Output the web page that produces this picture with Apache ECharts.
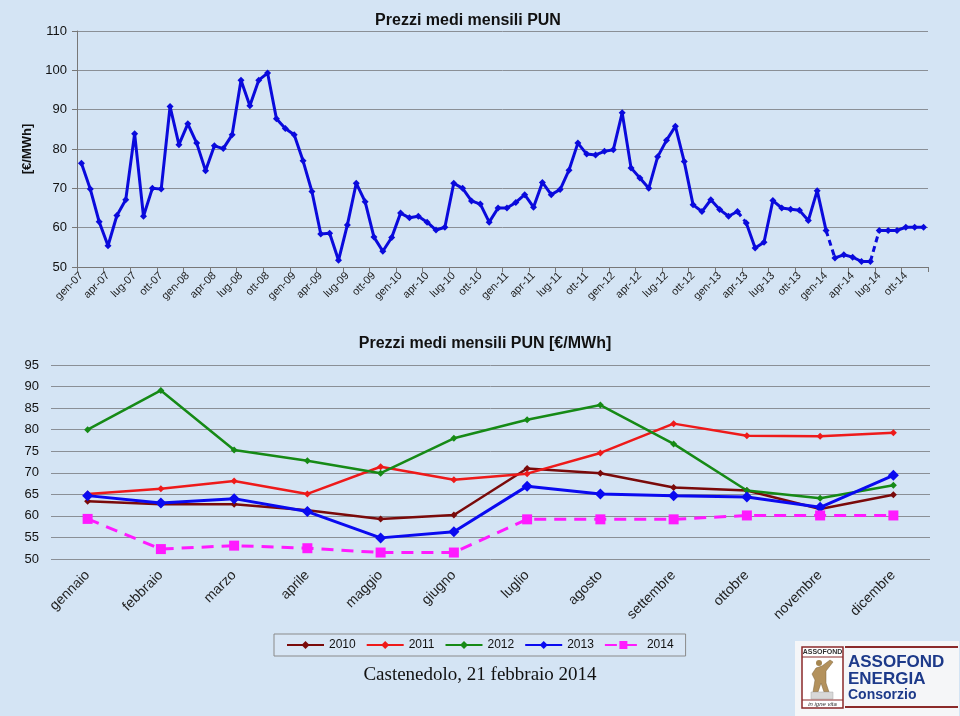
<!DOCTYPE html>
<html>
<head>
<meta charset="utf-8">
<script src="https://cdn.jsdelivr.net/npm/echarts@6/dist/echarts.min.js"></script>
<style>
html,body{margin:0;padding:0;background:#d4e4f4;}
#c{width:960px;height:716px;}
</style>
</head>
<body>
<div id="c"></div>
<script>
// ---------- DATA ----------
var monthAbbr = ['gen','feb','mar','apr','mag','giu','lug','ago','set','ott','nov','dic'];
var yearSuffix = ['07','08','09','10','11','12','13','14'];
var pun2007 = [76.4, 69.8, 61.5, 55.4, 63.1, 67.1, 83.9, 62.9, 70.0, 69.8, 90.8, 81.1];
var pun2008 = [86.4, 81.5, 74.5, 80.8, 80.1, 83.6, 97.5, 91.0, 97.5, 99.3, 87.7, 85.2];
var pun2009 = [83.6, 77.0, 69.2, 58.4, 58.6, 51.7, 60.7, 71.3, 66.6, 57.6, 54.0, 57.5];
var pun2010m = [63.7, 62.5, 62.9, 61.4, 59.4, 60.1, 71.3, 70.0, 66.8, 66.0, 61.4, 65.0];
var pun2011m = [65.0, 66.4, 68.4, 65.2, 71.5, 68.4, 69.7, 74.6, 81.5, 78.7, 78.5, 79.4];
var pun2012m = [79.8, 89.2, 75.2, 72.6, 70.0, 78.0, 82.2, 85.8, 76.8, 65.8, 64.1, 67.1];
var pun2013m = [64.6, 62.9, 64.1, 61.2, 54.8, 56.3, 66.9, 65.0, 64.7, 64.4, 61.8, 69.4];
var pun2014m = [59.3, 52.3, 53.1, 52.5, 51.4, 51.4, 59.3, 59.3, 59.3, 60.1, 60.1, 60.1];
// index ranges (in the monthly series) drawn solid / dashed
var solidRanges = [[0,74],[75,84],[85,89],[90,95]];
var dashedRanges = [[74,75],[84,85],[89,90]];

var mesi = ['gennaio','febbraio','marzo','aprile','maggio','giugno','luglio','agosto','settembre','ottobre','novembre','dicembre'];
var y2010 = [63.4, 62.7, 62.7, 61.3, 59.3, 60.2, 71.0, 69.9, 66.6, 65.9, 61.6, 64.9];
var y2011 = [65.1, 66.3, 68.1, 65.1, 71.4, 68.4, 69.8, 74.6, 81.4, 78.6, 78.5, 79.3];
var y2012 = [80.0, 89.1, 75.3, 72.8, 69.9, 78.0, 82.3, 85.7, 76.7, 65.9, 64.1, 67.1];
var y2013 = [64.7, 63.0, 64.0, 61.0, 54.9, 56.3, 66.9, 65.1, 64.7, 64.4, 62.0, 69.4];
var y2014 = [59.3, 52.3, 53.1, 52.5, 51.5, 51.5, 59.2, 59.2, 59.2, 60.1, 60.1, 60.1];

// ---------- BUILD ----------
var months = [];
yearSuffix.forEach(function(y){ monthAbbr.forEach(function(m){ months.push(m + '-' + y); }); });
var monthly = [].concat(pun2007, pun2008, pun2009, pun2010m, pun2011m, pun2012m, pun2013m, pun2014m);

function rangeData(a, b){
  return monthly.map(function(v, i){ return (i >= a && i <= b) ? v : null; });
}
var topBlue = '#0a0adc';
var series = [];
solidRanges.forEach(function(r){
  series.push({
    type:'line', xAxisIndex:0, yAxisIndex:0, data: rangeData(r[0], r[1]),
    connectNulls:false, symbol:'diamond', symbolSize:7, showSymbol:true, showAllSymbol:true,
    lineStyle:{color:topBlue, width:3}, itemStyle:{color:topBlue},
    silent:true, animation:false, z:3
  });
});
dashedRanges.forEach(function(r){
  series.push({
    type:'line', xAxisIndex:0, yAxisIndex:0, data: rangeData(r[0], r[1]),
    connectNulls:false, showSymbol:false,
    lineStyle:{color:topBlue, width:3, type:[6,4]}, itemStyle:{color:topBlue},
    silent:true, animation:false, z:2
  });
});

function yearSeries(name, data, color, width, symbol, size, dashed){
  return {
    name:name, type:'line', xAxisIndex:1, yAxisIndex:1, data:data,
    symbol:symbol, symbolSize:size, showAllSymbol:true,
    lineStyle:{color:color, width:width, type: dashed ? [12,8] : 'solid'},
    itemStyle:{color:color}, animation:false, z: 3
  };
}
series.push(yearSeries('2010', y2010, '#7a0a0a', 2.5, 'diamond', 7, false));
series.push(yearSeries('2011', y2011, '#ee1a1a', 2.5, 'diamond', 7, false));
series.push(yearSeries('2012', y2012, '#168a16', 2.5, 'diamond', 7, false));
series.push(yearSeries('2013', y2013, '#0a0af0', 3, 'diamond', 11, false));
series.push(yearSeries('2014', y2014, '#ff1aff', 3, 'rect', 10, true));

var chart = echarts.init(document.getElementById('c'));
chart.setOption({
  backgroundColor:'#d4e4f4',
  animation:false,
  textStyle:{fontFamily:'Liberation Sans, Arial, sans-serif'},
  title:[
    {text:'Prezzi medi mensili PUN', left:463, top:8, textAlign:'center',
     textStyle:{fontSize:16, fontWeight:'bold', color:'#111'}},
    {text:'Prezzi medi mensili PUN [€/MWh]', left:480, top:331, textAlign:'center',
     textStyle:{fontSize:16, fontWeight:'bold', color:'#111'}}
  ],
  legend:{
    data:['2010','2011','2012','2013','2014'],
    left:274, top:634, orient:'horizontal',
    padding:[5,12,5,12], itemGap:10, itemWidth:37, itemHeight:10,
    borderColor:'#8a8a8a', borderWidth:1, backgroundColor:'rgba(220,232,245,0.5)',
    textStyle:{fontSize:12, color:'#111'}
  },
  grid:[
    {left:77, right:32, top:31, bottom:449, containLabel:false},
    {left:51, right:30, top:365, bottom:157, containLabel:false}
  ],
  xAxis:[
    {gridIndex:0, type:'category', data:months, boundaryGap:true,
     axisLine:{show:true, lineStyle:{color:'#777', width:1}},
     axisTick:{show:true, interval:2, length:5, lineStyle:{color:'#777'}},
     axisLabel:{interval:2, rotate:45, fontSize:11, color:'#222', margin:7},
     splitLine:{show:false}},
    {gridIndex:1, type:'category', data:mesi, boundaryGap:true,
     axisLine:{show:false}, axisTick:{show:false},
     axisLabel:{interval:0, rotate:45, fontSize:14, color:'#222', margin:14},
     splitLine:{show:false}}
  ],
  yAxis:[
    {gridIndex:0, type:'value', min:50, max:110, interval:10,
     name:'[€/MWh]', nameLocation:'middle', nameGap:23, nameRotate:90,
     nameTextStyle:{fontSize:13, fontWeight:'bold', color:'#111'},
     axisLine:{show:true, lineStyle:{color:'#777'}},
     axisTick:{show:true, length:5, lineStyle:{color:'#777'}},
     axisLabel:{fontSize:13, color:'#111', margin:10},
     splitLine:{show:true, lineStyle:{color:'#8a8f96', width:1}}},
    {gridIndex:1, type:'value', min:50, max:95, interval:5,
     axisLine:{show:false}, axisTick:{show:false},
     axisLabel:{fontSize:13, color:'#111', margin:12},
     splitLine:{show:true, lineStyle:{color:'#8a8f96', width:1}}}
  ],
  series:series,
  graphic:[
    {type:'text', x:480, y:666, style:{text:'Castenedolo, 21 febbraio 2014',
      font:'19px "Liberation Serif", "Times New Roman", serif', fill:'#111', align:'center'}},
    // logo
    {type:'rect', shape:{x:795, y:641, width:164, height:75}, style:{fill:'#f5f6f8'}},
    {type:'rect', shape:{x:802, y:647, width:41, height:61}, style:{fill:'#ffffff', stroke:'#8b2a2a', lineWidth:1.5}},
    {type:'text', x:822.5, y:649, style:{text:'ASSOFOND', font:'bold 7px "Liberation Sans", Arial', fill:'#333', align:'center'}},
    {type:'line', shape:{x1:802, y1:657, x2:843, y2:657}, style:{stroke:'#8b2a2a', lineWidth:1}},
    {type:'polygon', shape:{points:[[816,668],[822,666],[830,660],[833,662],[826,671],[826,683],[829,692],[824,692],[821,683],[818,692],[813,692],[815,680],[812,674]]}, style:{fill:'#b3915c', stroke:'#7d623a', lineWidth:0.5}},
    {type:'circle', shape:{cx:819, cy:663, r:3}, style:{fill:'#a5854f'}},
    {type:'rect', shape:{x:811, y:692, width:22, height:7}, style:{fill:'#d8d8d8', stroke:'#aaa', lineWidth:0.5}},
    {type:'line', shape:{x1:802, y1:700, x2:843, y2:700}, style:{stroke:'#8b2a2a', lineWidth:1}},
    {type:'text', x:822.5, y:701, style:{text:'in igne vita', font:'italic 6px "Liberation Sans", Arial', fill:'#333', align:'center'}},
    {type:'line', shape:{x1:845, y1:647, x2:958, y2:647}, style:{stroke:'#8b2a2a', lineWidth:2}},
    {type:'line', shape:{x1:845, y1:707, x2:958, y2:707}, style:{stroke:'#8b2a2a', lineWidth:2}},
    {type:'text', x:848, y:654, style:{text:'ASSOFOND', font:'bold 17px "Liberation Sans", Arial', fill:'#1d3a8a'}},
    {type:'text', x:848, y:671, style:{text:'ENERGIA', font:'bold 17px "Liberation Sans", Arial', fill:'#1d3a8a'}},
    {type:'text', x:848, y:688, style:{text:'Consorzio', font:'bold 14px "Liberation Sans", Arial', fill:'#1d3a8a'}}
  ]
});
</script>
</body>
</html>
